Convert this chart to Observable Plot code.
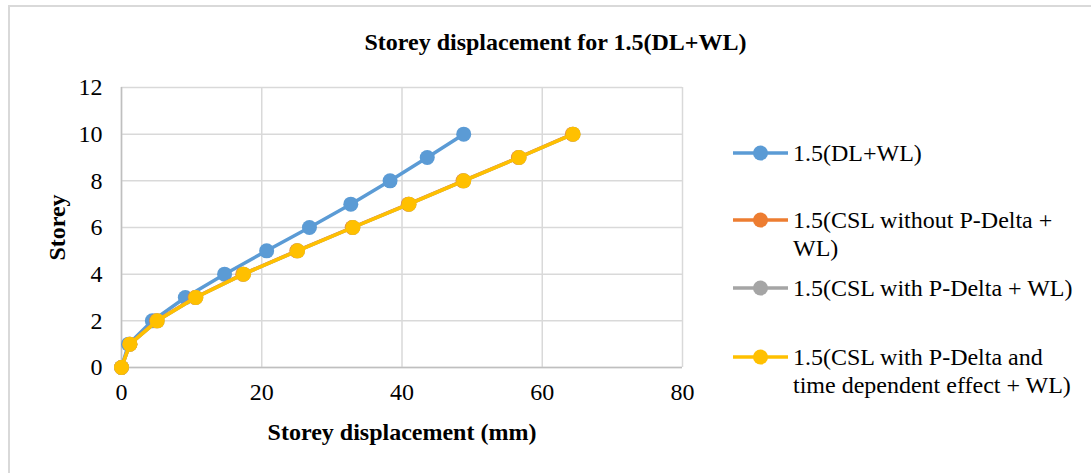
<!DOCTYPE html>
<html>
<head>
<meta charset="utf-8">
<script src="https://cdn.jsdelivr.net/npm/d3@7"></script>
<script src="https://cdn.jsdelivr.net/npm/@observablehq/plot@0.6"></script>
<style>
  body { margin: 0; background: #fff; }
  #wrap { position: relative; width: 1091px; height: 473px; overflow: hidden; font-family: "Liberation Serif", "Times New Roman", serif; }
  #frame { position: absolute; left: 8px; top: 5px; width: 1100px; height: 480px; border: 2px solid #d9d9d9; box-sizing: border-box; }
  #title { position: absolute; left: 0; width: 1111px; top: 28px; text-align: center; font-weight: bold; font-size: 24px; line-height: 28px; color: #000; }
  #plot { position: absolute; left: 0; top: 0; }
  .leg { position: absolute; left: 733px; font-size: 24px; color: #000; line-height: 28px; }
  .leg svg { position: absolute; left: 0; top: 0; }
  .leg span { position: absolute; left: 60px; top: 0; white-space: nowrap; }
</style>
</head>
<body>
<div id="wrap">
  <div id="frame"></div>
  <div id="plot"></div>
  <div id="title">Storey displacement for 1.5(DL+WL)</div>
  <div id="legend"></div>
</div>
<script>
const storeys = [0, 1, 2, 3, 4, 5, 6, 7, 8, 9, 10];
const dlwl = [0, 1.0, 4.4, 9.1, 14.7, 20.7, 26.8, 32.7, 38.3, 43.6, 48.8];
const cslNoPDelta = [0, 1.2, 5.0, 10.5, 17.3, 25.0, 32.9, 40.9, 48.7, 56.6, 64.3];
const cslPDelta = [0, 1.2, 5.1, 10.6, 17.4, 25.1, 33.0, 41.0, 48.8, 56.7, 64.4];
const cslPDeltaTime = [0, 1.2, 5.1, 10.6, 17.4, 25.1, 33.0, 41.0, 48.8, 56.7, 64.4];
const seriesNames = [
  "1.5(DL+WL)",
  "1.5(CSL without P-Delta + WL)",
  "1.5(CSL with P-Delta + WL)",
  "1.5(CSL with P-Delta and time dependent effect + WL)"
];
const legendLines = [
  ["1.5(DL+WL)"],
  ["1.5(CSL without P-Delta +", "WL)"],
  ["1.5(CSL with P-Delta + WL)"],
  ["1.5(CSL with P-Delta and", "time dependent effect + WL)"]
];
const colors = ["#5b9bd5", "#ed7d31", "#a5a5a5", "#ffc000"];
const xTicks = [0, 20, 40, 60, 80];
const yTicks = [0, 2, 4, 6, 8, 10, 12];
const xLabel = "Storey displacement (mm)";
const yLabel = "Storey";

const allSeries = [dlwl, cslNoPDelta, cslPDelta, cslPDeltaTime];
const rows = [];
allSeries.forEach((vals, i) => vals.forEach((v, j) => rows.push({series: seriesNames[i], x: v, y: storeys[j], idx: i})));

const font = '"Liberation Serif", "Times New Roman", serif';
const marks = [
  Plot.gridX(xTicks, {stroke: "#d9d9d9", strokeOpacity: 1, strokeWidth: 1.5}),
  Plot.gridY(yTicks, {stroke: "#d9d9d9", strokeOpacity: 1, strokeWidth: 1.5}),
  Plot.ruleX([0], {stroke: "#bfbfbf", strokeWidth: 1.5}),
  Plot.ruleY([0], {stroke: "#bfbfbf", strokeWidth: 1.5}),
  Plot.axisX(xTicks, {tickSize: 0, tickPadding: 15, fontSize: 24, fill: "#000", label: null}),
  Plot.axisY(yTicks, {tickSize: 0, tickPadding: 19, fontSize: 24, fill: "#000", label: null}),
  Plot.text([xLabel], {frameAnchor: "bottom", dy: 65, fontSize: 24, fontWeight: "bold", fill: "#000", lineAnchor: "middle", textAnchor: "middle"}),
  Plot.text([yLabel], {frameAnchor: "left", dx: -64, rotate: -90, fontSize: 24, fontWeight: "bold", fill: "#000", lineAnchor: "middle", textAnchor: "middle"})
];
allSeries.forEach((vals, i) => {
  const d = rows.filter(r => r.idx === i);
  marks.push(Plot.line(d, {x: "x", y: "y", stroke: colors[i], strokeWidth: 3.5}));
  marks.push(Plot.dot(d, {x: "x", y: "y", fill: colors[i], r: 7.5}));
});

const chart = Plot.plot({
  width: 720,
  height: 473,
  marginLeft: 121,
  marginRight: 38,
  marginTop: 87,
  marginBottom: 106,
  style: {fontFamily: font, background: "transparent", overflow: "visible"},
  x: {domain: [0, 80]},
  y: {domain: [0, 12]},
  marks
});
document.getElementById("plot").appendChild(chart);

const legendTops = [139, 206, 274, 343];
const legend = document.getElementById("legend");
legendLines.forEach((lines, i) => {
  const div = document.createElement("div");
  div.className = "leg";
  div.style.top = legendTops[i] + "px";
  div.innerHTML = `<svg width="60" height="28"><line x1="0" x2="55" y1="14" y2="14" stroke="${colors[i]}" stroke-width="3.5"/><circle cx="27.5" cy="14" r="7.5" fill="${colors[i]}"/></svg><span>${lines.join("<br>")}</span>`;
  legend.appendChild(div);
});
</script>
</body>
</html>
